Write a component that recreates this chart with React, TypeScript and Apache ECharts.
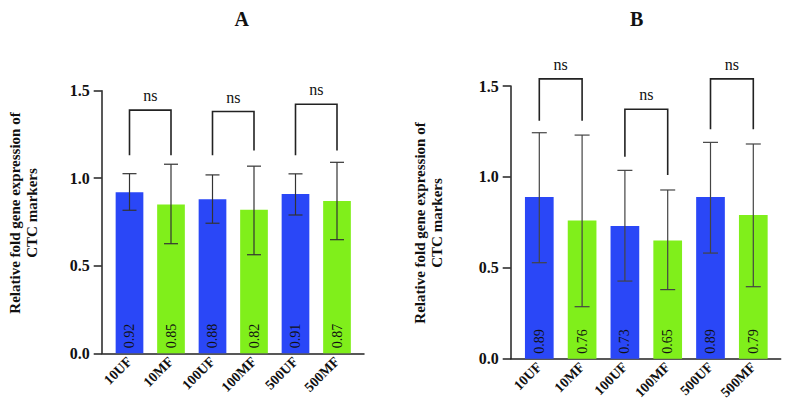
import React, { useEffect, useRef } from "react";
import * as echarts from "echarts";

const categories = ["10UF", "10MF", "100UF", "100MF", "500UF", "500MF"];
const yTicks = [0, 0.5, 1.0, 1.5];

const meansA = [0.92, 0.85, 0.88, 0.82, 0.91, 0.87];
const errLowA = [0.817, 0.626, 0.743, 0.563, 0.79, 0.649];
const errHighA = [1.026, 1.08, 1.019, 1.069, 1.025, 1.091];

const meansB = [0.89, 0.76, 0.73, 0.65, 0.89, 0.79];
const errLowB = [0.528, 0.286, 0.427, 0.38, 0.581, 0.396];
const errHighB = [1.243, 1.23, 1.036, 0.928, 1.19, 1.181];

// [left category, right category, bracket top, left leg end, right leg end]
const bracketsA = [
  [0, 1, 1.389, 1.131, 1.131],
  [2, 3, 1.381, 1.131, 1.158],
  [4, 5, 1.423, 1.131, 1.158],
];
const bracketsB = [
  [0, 1, 1.539, 1.309, 1.309],
  [2, 3, 1.372, 1.111, 1.01],
  [4, 5, 1.539, 1.262, 1.262],
];
const sigLabel = "ns";
const panelTitles = ["A", "B"];
const yName = "Relative fold gene expression of\nCTC markers";

const SERIF = "'Liberation Serif', 'Times New Roman', serif";
const BLUE = "#2a47f7";
const GREEN = "#80ef1b";

function panel(
  gi: number,
  barGrid: any,
  lineGrid: any,
  means: number[],
  lo: number[],
  hi: number[],
  brackets: number[][],
  barWidth: number,
  cap: number,
  errColor: string
) {
  const grids = [barGrid, lineGrid];
  const xAxes = [
    {
      type: "category",
      gridIndex: gi,
      data: categories,
      axisLine: { show: false },
      axisTick: { show: false },
      axisLabel: {
        interval: 0,
        rotate: 45,
        margin: 6,
        fontFamily: SERIF,
        fontWeight: "bold",
        fontSize: 14,
        color: "#111",
      },
    },
    {
      type: "value",
      gridIndex: gi + 1,
      min: 0,
      max: 1,
      axisLine: { show: true, lineStyle: { color: "#222", width: 1.5 } },
      axisTick: { show: false },
      axisLabel: { show: false },
      splitLine: { show: false },
    },
  ];
  const yAxes = [
    {
      type: "value",
      gridIndex: gi,
      min: yTicks[0],
      max: yTicks[yTicks.length - 1],
      interval: 0.5,
      offset: barGrid.left - lineGrid.left,
      axisLine: { show: true, lineStyle: { color: "#222", width: 1.5 } },
      axisTick: { show: true, length: 8, lineStyle: { color: "#222", width: 1.5 } },
      axisLabel: {
        margin: 12,
        fontFamily: SERIF,
        fontWeight: "bold",
        fontSize: 16,
        color: "#111",
        formatter: (v: number) => v.toFixed(1),
      },
      splitLine: { show: false },
    },
    {
      type: "value",
      gridIndex: gi + 1,
      min: 0,
      max: 1,
      show: false,
    },
  ];
  const series = [
    {
      type: "bar",
      xAxisIndex: gi,
      yAxisIndex: gi,
      data: means,
      barWidth,
      itemStyle: {
        color: (p: any) => (p.dataIndex % 2 === 0 ? BLUE : GREEN),
      },
      label: {
        show: true,
        position: "insideBottom",
        rotate: 90,
        align: "left",
        verticalAlign: "middle",
        distance: 5,
        fontFamily: SERIF,
        fontSize: 14,
        color: "#111",
        formatter: (p: any) => p.value.toFixed(2),
      },
      z: 2,
    },
    {
      type: "custom",
      xAxisIndex: gi,
      yAxisIndex: gi,
      z: 3,
      clip: false,
      data: categories.map((c, i) => [i, lo[i], hi[i]]),
      renderItem: (params: any, api: any) => {
        const x = api.value(0);
        const pLo = api.coord([x, api.value(1)]);
        const pHi = api.coord([x, api.value(2)]);
        const hw = cap / 2;
        const style = { stroke: errColor, lineWidth: 1.2 };
        return {
          type: "group",
          children: [
            { type: "line", shape: { x1: pLo[0], y1: pLo[1], x2: pHi[0], y2: pHi[1] }, style },
            { type: "line", shape: { x1: pHi[0] - hw, y1: pHi[1], x2: pHi[0] + hw, y2: pHi[1] }, style },
            { type: "line", shape: { x1: pLo[0] - hw, y1: pLo[1], x2: pLo[0] + hw, y2: pLo[1] }, style },
          ],
        };
      },
    },
    {
      type: "custom",
      xAxisIndex: gi,
      yAxisIndex: gi,
      z: 3,
      clip: false,
      data: brackets,
      renderItem: (params: any, api: any) => {
        const l = api.value(0);
        const r = api.value(1);
        const topL = api.coord([l, api.value(2)]);
        const topR = api.coord([r, api.value(2)]);
        const endL = api.coord([l, api.value(3)]);
        const endR = api.coord([r, api.value(4)]);
        const style = { stroke: "#222", lineWidth: 1.6, fill: null };
        return {
          type: "group",
          children: [
            {
              type: "polyline",
              shape: {
                points: [
                  [endL[0], endL[1]],
                  [topL[0], topL[1]],
                  [topR[0], topR[1]],
                  [endR[0], endR[1]],
                ],
              },
              style,
            },
            {
              type: "text",
              x: (topL[0] + topR[0]) / 2,
              y: topL[1] - 6.5,
              style: {
                text: sigLabel,
                textAlign: "center",
                textVerticalAlign: "bottom",
                fontFamily: SERIF,
                fontSize: 16,
                fill: "#111",
              },
            },
          ],
        };
      },
    },
  ];
  return { grids, xAxes, yAxes, series };
}

export default function App() {
  const ref = useRef<HTMLDivElement>(null);
  useEffect(() => {
    if (!ref.current) return;
    const chart = echarts.init(ref.current, null, { renderer: "svg" });
    const a = panel(
      0,
      { left: 108.75, top: 90.7, width: 249, height: 262.6 },
      { left: 101.7, top: 90.7, width: 262.3, height: 262.6 },
      meansA,
      errLowA,
      errHighA,
      bracketsA,
      27.7,
      14,
      "#333"
    );
    const b = panel(
      2,
      { left: 517.9, top: 86, width: 256.8, height: 272.7 },
      { left: 510.7, top: 86, width: 270, height: 272.7 },
      meansB,
      errLowB,
      errHighB,
      bracketsB,
      28.7,
      15,
      "#444"
    );
    const titleStyle = {
      textAlign: "center",
      textVerticalAlign: "middle",
      fontFamily: SERIF,
      fontWeight: "bold",
      fontSize: 20,
      fill: "#111",
    };
    const nameStyle = {
      textAlign: "center",
      textVerticalAlign: "middle",
      fontFamily: SERIF,
      fontWeight: "bold",
      fontSize: 15,
      lineHeight: 17,
      fill: "#111",
    };
    chart.setOption({
      animation: false,
      backgroundColor: "#fff",
      grid: [...a.grids, ...b.grids],
      xAxis: [...a.xAxes, ...b.xAxes],
      yAxis: [...a.yAxes, ...b.yAxes],
      series: [...a.series, ...b.series],
      graphic: [
        { type: "text", x: 241.7, y: 18.5, style: { ...titleStyle, text: panelTitles[0] } },
        { type: "text", x: 636.7, y: 18.5, style: { ...titleStyle, text: panelTitles[1] } },
        { type: "text", x: 23.5, y: 213, rotation: Math.PI / 2, style: { ...nameStyle, text: yName } },
        { type: "text", x: 428.3, y: 223, rotation: Math.PI / 2, style: { ...nameStyle, text: yName } },
      ],
    });
    return () => chart.dispose();
  }, []);
  return (
    <div
      ref={ref}
      style={{ position: "absolute", left: 0, top: 0, width: 789, height: 410, background: "#fff" }}
    />
  );
}
